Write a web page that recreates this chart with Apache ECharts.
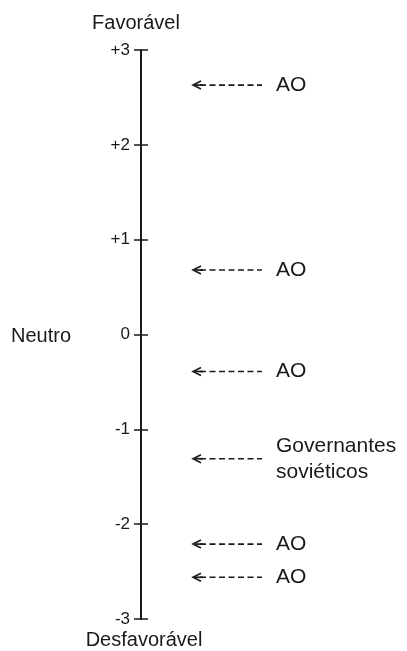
<!DOCTYPE html>
<html>
<head>
<meta charset="utf-8">
<script src="https://cdn.jsdelivr.net/npm/echarts@6/dist/echarts.min.js"></script>
<style>html,body{margin:0;padding:0;background:#fff}#c{width:407px;height:651px}</style>
</head>
<body>
<div id="c"></div>
<script>
// Scale ticks
var tickValues = [3, 2, 1, 0, -1, -2, -3];
var tickLabels = {'3': '+3', '2': '+2', '1': '+1', '0': '0', '-1': '-1', '-2': '-2', '-3': '-3'};
// Marked positions on the scale
var markerValues = [2.63, 0.68, -0.39, -1.31, -2.21, -2.56];
var markerLabels = ['AO', 'AO', 'AO', 'Governantes\nsoviéticos', 'AO', 'AO'];
// Scale end/middle names
var topName = 'Favorável';
var bottomName = 'Desfavorável';
var middleName = 'Neutro';

var FONT = '"Liberation Sans", Arial, sans-serif';
var INK = '#1a1a1a';

var chart = echarts.init(document.getElementById('c'), null, {renderer: 'canvas'});

function yAxisBase(inside, showLabel) {
  return {
    type: 'value', min: -3, max: 3, interval: 1, position: 'left', offset: 0,
    axisLine: {show: true, onZero: false, lineStyle: {color: INK, width: 2}},
    axisTick: {show: true, inside: inside, length: 7, lineStyle: {color: INK, width: 1.5}},
    splitLine: {show: false},
    axisLabel: {
      show: showLabel, margin: 11, color: INK, fontFamily: FONT, fontSize: 17,
      formatter: function (v) { return tickLabels[String(v)]; }
    }
  };
}

var option = {
  animation: false,
  backgroundColor: '#fff',
  grid: {left: 141, top: 50, bottom: 32, width: 266, containLabel: false},
  xAxis: {type: 'value', min: 0, max: 266, show: false},
  yAxis: [yAxisBase(false, true), yAxisBase(true, false)],
  series: [{
    type: 'custom',
    coordinateSystem: 'cartesian2d',
    yAxisIndex: 0,
    data: markerValues.map(function (v, i) { return [0, v, i]; }),
    renderItem: function (params, api) {
      var p = api.coord([0, api.value(1)]);
      var y = p[1];
      var x0 = p[0] + 52;   // arrow tip
      var x1 = p[0] + 121;  // dashed line end
      var tx = p[0] + 135;  // label start
      var label = markerLabels[api.value(2)];
      return {
        type: 'group',
        children: [
          {type: 'line', shape: {x1: x0 + 7, y1: y, x2: x1, y2: y},
           style: {stroke: INK, lineWidth: 1.7, lineDash: [6, 3.5]}},
          {type: 'polyline', shape: {points: [[x0 + 8, y - 4], [x0, y], [x0 + 8, y + 4]]},
           style: {stroke: INK, lineWidth: 1.6, fill: null}},
          {type: 'line', shape: {x1: x0 + 2, y1: y, x2: x0 + 10, y2: y},
           style: {stroke: INK, lineWidth: 1.7}},
          {type: 'text', x: tx, y: y,
           style: {text: label, fill: INK, font: '21px ' + FONT, textVerticalAlign: 'middle', lineHeight: 26}}
        ]
      };
    }
  }]
};
chart.setOption(option);

var pTop = chart.convertToPixel({gridIndex: 0}, [0, 3]);
var pZero = chart.convertToPixel({gridIndex: 0}, [0, 0]);
var pBot = chart.convertToPixel({gridIndex: 0}, [0, -3]);
chart.setOption({
  graphic: [
    {type: 'text', x: pTop[0] - 5, y: pTop[1] - 27,
     style: {text: topName, fill: INK, font: '20px ' + FONT, textAlign: 'center', textVerticalAlign: 'middle'}},
    {type: 'text', x: pBot[0] + 3, y: pBot[1] + 21,
     style: {text: bottomName, fill: INK, font: '20px ' + FONT, textAlign: 'center', textVerticalAlign: 'middle'}},
    {type: 'text', x: 11, y: pZero[1] + 2,
     style: {text: middleName, fill: INK, font: '20px ' + FONT, textAlign: 'left', textVerticalAlign: 'middle'}}
  ]
});
</script>
</body>
</html>
